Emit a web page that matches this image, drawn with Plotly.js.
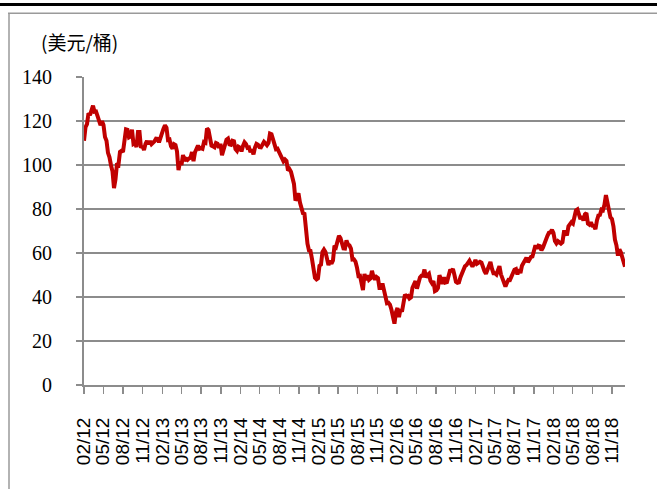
<!DOCTYPE html>
<html>
<head>
<meta charset="utf-8">
<script src="https://cdn.plot.ly/plotly-3.0.1.min.js"></script>
<style>
  html, body { margin: 0; padding: 0; background: #ffffff; }
  #chart { width: 657px; height: 489px; }
</style>
</head>
<body>
<div id="chart"></div>
<script>
// Brent crude, weekly (Wednesdays) readings, USD/barrel
const weekStart = "2012-02-01";
const brent2012 = [111.0,117.2,118.6,123.5,122.7,124.5,127.0,124.2,124.3,122.3,119.9,118.1,119.9,118.2,112.7,111.0,105.5,103.5,99.9,97.1,89.5,93.5,100.7,100.2,106.0,106.5,105.9,111.2,116.2,116.0,112.6,113.0,116.0,109.6,110.0,108.2,115.0,115.0,107.8,108.7,106.8,109.6,110.9,109.5,110.8,109.5,110.0,110.8];
const brent2013 = [112.0,111.9,110.3,112.7,114.7,116.5,118.0,117.0,111.4,111.6,108.5,107.5,109.5,109.1,106.2,97.7,101.5,100.0,104.5,102.0,102.8,102.3,103.0,103.3,105.9,101.7,105.8,107.5,108.8,107.4,107.7,107.4,110.4,110.1,116.6,115.9,111.5,108.8,108.5,108.1,110.0,109.7,107.8,109.6,104.4,107.1,108.5,111.5,112.0,109.4,109.2,111.0];
const brent2014 = [110.8,107.2,106.4,108.3,107.9,106.2,108.7,110.3,109.5,107.8,108.0,105.9,107.0,104.8,107.9,109.6,109.2,108.1,108.0,109.9,110.5,109.8,109.0,110.0,114.3,114.0,111.2,108.3,107.2,107.4,106.0,104.6,104.0,101.7,102.5,101.8,97.5,98.1,96.9,94.2,91.4,83.8,86.2,87.1,82.9,80.4,78.1,77.8,69.9,64.2,61.2,61.0,57.3];
const brent2015 = [51.2,48.7,48.0,48.5,54.2,54.7,60.5,61.6,60.5,57.5,54.5,56.5,55.1,56.6,63.3,62.7,65.8,67.8,66.8,65.0,62.1,62.0,65.7,63.9,63.5,62.0,57.0,57.1,56.1,53.4,49.6,49.7,46.6,43.1,50.5,47.6,49.8,47.8,48.4,51.9,49.2,47.9,49.1,48.6,44.1,44.1,46.2,42.5,40.1,37.2,37.4,36.5];
const brent2016 = [34.2,30.3,27.9,33.1,35.0,30.8,34.5,33.3,36.9,41.1,40.3,40.5,39.3,39.8,44.2,45.7,47.2,43.8,47.6,48.9,49.7,49.7,52.5,48.9,50.0,50.6,47.4,46.3,47.2,42.7,43.1,44.1,49.9,48.1,46.0,49.0,46.6,46.8,48.7,51.9,52.0,52.7,50.0,46.9,46.4,46.6,49.0,50.5,53.0,54.0,54.5,56.0];
const brent2017 = [56.5,55.1,53.9,55.1,56.8,55.1,55.8,56.0,55.6,53.1,51.8,50.6,52.4,54.4,55.9,52.9,50.8,50.8,50.2,52.2,54.0,50.3,48.1,46.9,44.8,46.5,47.8,47.7,49.7,51.0,52.4,52.7,50.3,52.6,50.9,54.2,55.2,56.3,57.9,55.8,56.9,58.2,58.4,61.0,63.5,62.0,63.3,63.1,61.2,62.4,64.6,66.4];
const brent2018 = [67.8,69.2,69.4,70.5,69.1,65.5,64.4,65.4,64.7,64.3,64.9,69.5,69.5,68.0,72.1,73.5,74.0,73.4,77.2,79.3,79.8,77.5,75.4,76.7,74.7,77.6,78.2,73.4,72.9,73.9,72.4,72.3,70.8,74.8,77.1,77.3,79.7,79.4,81.9,86.3,83.1,80.1,76.2,75.5,72.1,66.1,63.5,58.8,61.6,60.2,57.2,54.5];
const lastDate = "2018-12-31";
const lastValue = 53.8;

const tickLabels = ["02/12","05/12","08/12","11/12","02/13","05/13","08/13","11/13","02/14","05/14","08/14","11/14","02/15","05/15","08/15","11/15","02/16","05/16","08/16","11/16","02/17","05/17","08/17","11/17","02/18","05/18","08/18","11/18"];
const yUnit = "(美元/桶)";

const values = [].concat(brent2012, brent2013, brent2014, brent2015, brent2016, brent2017, brent2018, [lastValue]);
const t0 = Date.parse(weekStart + "T00:00:00Z");
const dates = values.map((v, i) => i === values.length - 1 ? lastDate
  : new Date(t0 + i * 7 * 86400000).toISOString().slice(0, 10));
const tickVals = tickLabels.map(s => "20" + s.slice(3) + "-" + s.slice(0, 2) + "-01");

const GRID = "#8c8c8c";
// pixel -> paper helpers for frame decoration
const L = 84, R = 32, T = 77, B = 104, W = 657, H = 489;
const pw = W - L - R, ph = H - T - B;
const px = x => (x - L) / pw;
const py = y => (H - B - y) / ph;

const trace = {
  x: dates, y: values, type: "scatter", mode: "lines",
  line: { color: "#C00000", width: 4 },
  hoverinfo: "skip"
};

const layout = {
  width: W, height: H,
  margin: { l: L, r: R, t: T, b: B, pad: 0 },
  paper_bgcolor: "#ffffff", plot_bgcolor: "#ffffff",
  showlegend: false,
  xaxis: {
    type: "date",
    range: ["2012-02-01", "2018-12-31"],
    tickmode: "array", tickvals: tickVals, ticktext: tickLabels,
    tickangle: -90,
    ticks: "outside", ticklen: 7, tickwidth: 1.5, tickcolor: GRID,
    showline: true, linecolor: GRID, linewidth: 2,
    showgrid: false, zeroline: false,
    ticklabelstandoff: 16,
    tickfont: { family: "Liberation Sans, Arial, sans-serif", size: 19, color: "#000000" }
  },
  yaxis: {
    range: [0, 140], tickmode: "linear", tick0: 0, dtick: 20,
    ticks: "outside", ticklen: 6, tickwidth: 2, tickcolor: GRID,
    showline: true, linecolor: GRID, linewidth: 2,
    showgrid: true, gridcolor: GRID, gridwidth: 2,
    zeroline: false,
    ticklabelstandoff: 20,
    tickfont: { family: "Liberation Serif, Times New Roman, serif", size: 20, color: "#000000" }
  },
  annotations: [{
    text: yUnit, xref: "paper", yref: "paper",
    x: px(39), y: py(41), xanchor: "left", yanchor: "middle",
    showarrow: false,
    font: { family: "Noto Sans CJK SC, sans-serif", size: 19, color: "#000000" }
  }],
  shapes: [
    { type: "line", xref: "paper", yref: "paper", x0: px(0), x1: px(W), y0: py(4.5), y1: py(4.5),
      line: { color: "#000000", width: 3 } },
    { type: "line", xref: "paper", yref: "paper", x0: px(8), x1: px(W), y0: py(13.3), y1: py(13.3),
      line: { color: "#9a9a9a", width: 1.5 } },
    { type: "line", xref: "paper", yref: "paper", x0: px(9), x1: px(9), y0: py(13.3), y1: py(H),
      line: { color: "#9a9a9a", width: 1.5 } }
  ]
};

Plotly.newPlot("chart", [trace], layout, { staticPlot: true, displayModeBar: false });
</script>
</body>
</html>
